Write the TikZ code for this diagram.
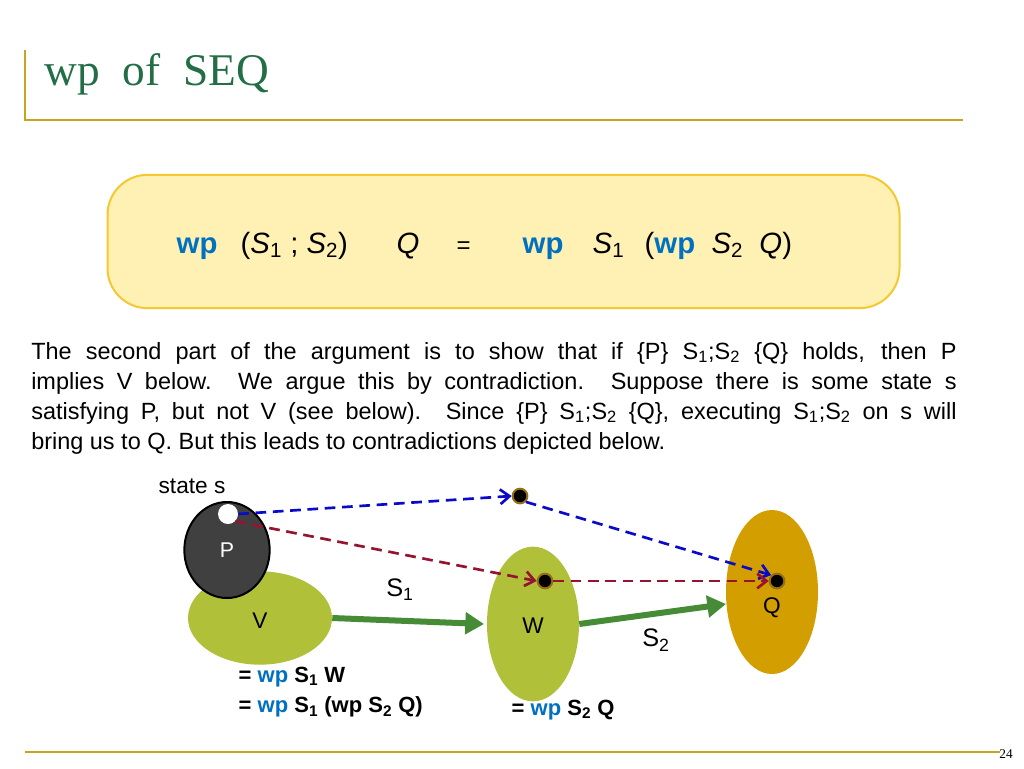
\documentclass[tikz,border=0pt]{standalone}
\usepackage{fontspec}
\setmainfont{Liberation Sans}
\newfontfamily\titlefont{Liberation Serif}
\usetikzlibrary{arrows.meta,shapes.geometric}
\definecolor{gold}{RGB}{200,165,30}
\definecolor{titlegreen}{RGB}{35,110,70}
\definecolor{boxfill}{RGB}{255,240,180}
\definecolor{boxdraw}{RGB}{245,200,50}
\definecolor{wpblue}{RGB}{0,112,192}
\definecolor{vgreen}{RGB}{176,192,56}
\definecolor{qgold}{RGB}{210,158,0}
\definecolor{pgray}{RGB}{64,64,64}
\definecolor{agreen}{RGB}{70,140,55}
\definecolor{dred}{RGB}{150,20,50}
\definecolor{dblue}{RGB}{10,10,200}
\definecolor{dotbrown}{RGB}{150,110,20}
\tikzset{
 dotn/.style={circle,fill=black,draw=dotbrown,line width=1.5pt,inner sep=0,minimum size=11pt},
 bigarrow/.style={draw=agreen,line width=4.5pt,-{Triangle[length=14pt,width=16pt]}},
 bluedash/.style={draw=dblue,line width=2pt,dash pattern=on 8pt off 5pt,-{Straight Barb[length=7pt,width=11pt]}},
 reddash/.style={draw=dred,line width=2pt,dash pattern=on 8pt off 5pt,-{Straight Barb[length=7pt,width=11pt]}},
 lbl/.style={font=\fontsize{17}{19}\selectfont},
 btxt/.style={font=\bfseries\fontsize{16.5}{18}\selectfont,anchor=west},
 fml/.style={font=\fontsize{22}{26}\selectfont,anchor=base west},
 pline/.style={anchor=base west,inner sep=0,font=\fontsize{17.6}{20}\selectfont},
}
\newcommand{\wpb}{\textcolor{wpblue}{wp}}
\newcommand{\tS}[1]{\textit{S}\textsubscript{#1}}
\begin{document}
\begin{tikzpicture}[x=0.75pt,y=-0.75pt]
\useasboundingbox (0,0) rectangle (1024,768);
\fill[white] (0,0) rectangle (1024,768);
% header
\draw[gold,line width=1.5pt] (25,50) coordinate(t1) -- (25,120) coordinate(t2) -- (963,120) coordinate(t3);
\node[anchor=base west,text=titlegreen,font=\titlefont\fontsize{34}{38}\selectfont] (title) at (40,85) {wp\ \ of\ \ SEQ};
\draw[gold,line width=1pt] (25,752) coordinate(b1) -- (1000,752) coordinate(b2);
\node[font=\titlefont\fontsize{10}{12}\selectfont] (pg) at (1006,754) {24};
% formula box
\node[draw=boxdraw,fill=boxfill,line width=1.5pt,rounded corners=30pt,minimum width=594pt,minimum height=100pt] (box) at (503.5,241.5) {};
\node[fml] (f1) at (172,253) {\textbf{\wpb}};
\node[fml] (f2) at (236,253) {(\tS1 ; \tS2)};
\node[fml] (f3) at (392,253) {\textit{Q}};
\node[fml,font=\fontsize{18}{20}\selectfont] (eq) at (452,253) {=};
\node[fml] (f4) at (518,253) {\textbf{\wpb}};
\node[fml] (f5) at (588,253) {\tS1};
\node[fml] (f6) at (640,253) {(\textbf{\wpb}\ \ \tS2\ \ \textit{Q})};
% paragraph
\node[pline] (p1) at (31,359) {\makebox[694pt][s]{The second part of the argument is to show that if \{P\} S\textsubscript{1};S\textsubscript{2} \{Q\} holds, then P}};
\node[pline] (p2) at (31,389) {\makebox[694pt][s]{implies V below. We argue this by contradiction. Suppose there is some state s}};
\node[pline] (p3) at (31,419) {\makebox[694pt][s]{satisfying P, but not V (see below). Since \{P\} S\textsubscript{1};S\textsubscript{2} \{Q\}, executing S\textsubscript{1};S\textsubscript{2} on s will}};
\node[pline] (p4) at (31,449) {bring us to Q. But this leads to contradictions depicted below.};
% diagram
\node[lbl] (st) at (192,486) {state s};
\node[ellipse,fill=vgreen,minimum width=108pt,minimum height=70pt] (V) at (260,618) {};
\node[lbl] at (260,621) {V};
\node[ellipse,draw=black,line width=1.5pt,fill=pgray,minimum width=64pt,minimum height=72pt,text=white,font=\fontsize{16}{18}\selectfont] (P) at (227,550) {P};
\node[ellipse,fill=vgreen,minimum width=69pt,minimum height=116pt] (W) at (533,624) {};
\node[lbl] at (533,626) {W};
\node[ellipse,fill=qgold,minimum width=69pt,minimum height=123pt] (Q) at (772,592) {};
\node[lbl] at (772,608) {Q};
\node[circle,fill=white,inner sep=0,minimum size=15pt] (s) at (228,514) {};
\node[dotn] (d1) at (520,496) {};
\node[dotn] (d2) at (545,581) {};
\node[dotn] (d3) at (777,581) {};
\draw[bluedash] (s.east) -- (d1.west);
\draw[bluedash] (d1.south east) -- (d3.north west);
\draw[reddash] (s.south east) -- (d2.west);
\draw[reddash] (d2.east) -- (d3.west);
\draw[bigarrow] (V.east) -- (484,624) coordinate(wa);
\draw[bigarrow] (W.east) -- (726,604) coordinate(qa);
\node[lbl,font=\fontsize{19}{21}\selectfont] (s1) at (400,590) {S\textsubscript{1}};
\node[lbl,font=\fontsize{19}{21}\selectfont] (s2) at (656,640) {S\textsubscript{2}};
\node[btxt] (e1) at (234,677) {= \wpb\ S\textsubscript{1} W};
\node[btxt] (e2) at (234,707) {= \wpb\ S\textsubscript{1} (wp S\textsubscript{2} Q)};
\node[btxt] (e3) at (507,710) {= \wpb\ S\textsubscript{2} Q};
\end{tikzpicture}
\end{document}
